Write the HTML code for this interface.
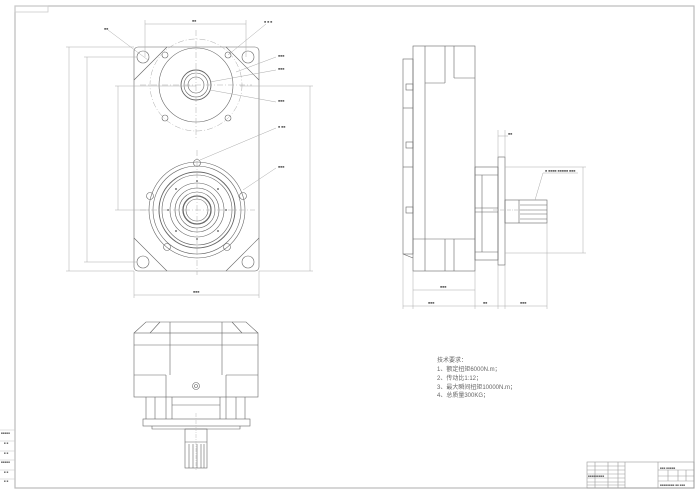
<!DOCTYPE html>
<html><head><meta charset="utf-8"><style>
html,body{margin:0;padding:0;background:#fff;}
svg{display:block;}
text{font-family:"Liberation Sans","Noto Sans CJK SC",sans-serif;fill:#666;}
</style></head><body>
<svg width="700" height="495" viewBox="0 0 700 495" xmlns="http://www.w3.org/2000/svg">
<rect width="700" height="495" fill="#fff"/>
<rect x="15" y="6" width="679" height="482" fill="none" stroke="#bbb" stroke-width="1.2"/>
<rect x="15" y="6" width="33" height="6" fill="none" stroke="#ccc" stroke-width="0.8"/>
<g stroke="#ccc" stroke-width="0.6">
<line x1="0" y1="430" x2="15" y2="430"/><line x1="0" y1="441" x2="15" y2="441"/>
<line x1="0" y1="451" x2="15" y2="451"/><line x1="0" y1="460" x2="15" y2="460"/>
<line x1="0" y1="470" x2="15" y2="470"/><line x1="0" y1="479" x2="15" y2="479"/>
</g>
<g style="fill:#aaa" font-size="3"><text x="1" y="434">■■■■■</text><text x="4" y="444">■ ■</text><text x="4" y="454">■ ■</text><text x="1" y="463">■■■■■</text><text x="4" y="473">■ ■</text><text x="4" y="482">■ ■</text></g>

<g fill="none" stroke="#666" stroke-width="0.6">
<rect x="134" y="47" width="125" height="224" rx="4"/>
<line x1="134" y1="80" x2="167" y2="47"/><line x1="226" y1="47" x2="259" y2="80"/>
<line x1="134" y1="238" x2="167" y2="271"/><line x1="226" y1="271" x2="259" y2="238"/>
<circle cx="143" cy="57" r="6"/><circle cx="248" cy="57" r="6"/>
<circle cx="143" cy="262" r="6"/><circle cx="248" cy="262" r="6"/>
<circle cx="196" cy="85" r="37"/>
<circle cx="196" cy="85" r="15" stroke-width="0.9"/><circle cx="196" cy="85" r="12"/><circle cx="196" cy="85" r="8"/>
<circle cx="165" cy="55" r="3"/><circle cx="228" cy="55" r="3"/><circle cx="165" cy="118" r="3"/><circle cx="228" cy="118" r="3"/>
<circle cx="197" cy="210" r="48"/><circle cx="197" cy="210" r="44"/><circle cx="197" cy="210" r="38" stroke-width="1"/>
<circle cx="197" cy="210" r="35"/><circle cx="197" cy="210" r="27"/><circle cx="197" cy="210" r="22"/>
<circle cx="197" cy="210" r="18"/><circle cx="197" cy="210" r="14" stroke-width="1.3"/><circle cx="197" cy="210" r="11"/>
<circle cx="197" cy="163" r="3.5"/><circle cx="150" cy="196" r="3.5"/><circle cx="243" cy="196" r="3.5"/>
<circle cx="167" cy="247" r="3.5"/><circle cx="227" cy="247" r="3.5"/>
</g>
<g fill="#777">
<circle cx="197" cy="181" r="1"/><circle cx="197" cy="239" r="1"/><circle cx="168" cy="210" r="1"/><circle cx="226" cy="210" r="1"/>
<circle cx="176" cy="189" r="1"/><circle cx="218" cy="189" r="1"/><circle cx="176" cy="231" r="1"/><circle cx="218" cy="231" r="1"/>
</g>
<g fill="none" stroke="#aaa" stroke-width="0.5">
<circle cx="196" cy="85" r="46" stroke-dasharray="6,2,1,2"/>
<line x1="196" y1="30" x2="196" y2="140" stroke-dasharray="6,2,1,2"/>
<line x1="140" y1="85" x2="252" y2="85" stroke-dasharray="6,2,1,2"/>
<line x1="197" y1="150" x2="197" y2="275" stroke-dasharray="6,2,1,2"/>
<line x1="140" y1="210" x2="255" y2="210" stroke-dasharray="6,2,1,2"/>
<line x1="145" y1="24" x2="246" y2="24"/><line x1="145" y1="20" x2="145" y2="57"/><line x1="246" y1="20" x2="246" y2="57"/>
<line x1="69" y1="47" x2="69" y2="271"/><line x1="66" y1="47" x2="134" y2="47"/><line x1="66" y1="271" x2="134" y2="271"/>
<line x1="87" y1="57" x2="87" y2="262"/><line x1="84" y1="57" x2="137" y2="57"/><line x1="84" y1="262" x2="137" y2="262"/>
<line x1="118" y1="86" x2="118" y2="210"/><line x1="115" y1="86" x2="196" y2="86"/><line x1="115" y1="210" x2="150" y2="210"/>
<line x1="310" y1="86" x2="310" y2="271"/><line x1="240" y1="86" x2="313" y2="86"/><line x1="259" y1="271" x2="313" y2="271"/>
<line x1="134" y1="295" x2="259" y2="295"/><line x1="134" y1="271" x2="134" y2="298"/><line x1="259" y1="271" x2="259" y2="298"/>
<line x1="108" y1="30" x2="148" y2="60"/><line x1="228" y1="55" x2="266" y2="24"/>
<line x1="236" y1="72" x2="276" y2="57"/><line x1="210" y1="82" x2="276" y2="70"/>
<line x1="210" y1="90" x2="276" y2="102"/><line x1="200" y1="160" x2="276" y2="128"/>
<line x1="243" y1="190" x2="276" y2="168"/>
</g>
<g font-size="3.5" style="fill:#aaa">
<text x="192" y="22">■■</text><text x="264" y="23">■ ■ ■</text><text x="104" y="30">■■</text>
<text x="278" y="57">■■■</text><text x="278" y="70">■■■</text><text x="278" y="102">■■■</text>
<text x="278" y="128">■ ■■</text><text x="278" y="168">■■■</text><text x="193" y="293">■■■</text>
</g>

<g fill="none" stroke="#666" stroke-width="0.6">
<rect x="413" y="46" width="62" height="225"/>
<rect x="403" y="59" width="10" height="195"/>
<line x1="425" y1="46" x2="425" y2="271"/><line x1="445" y1="46" x2="445" y2="83"/><line x1="454" y1="46" x2="454" y2="78"/>
<line x1="425" y1="83" x2="445" y2="83"/><line x1="454" y1="78" x2="475" y2="78"/>
<line x1="413" y1="239" x2="475" y2="239"/><line x1="445" y1="239" x2="445" y2="271"/><line x1="454" y1="239" x2="454" y2="271"/>
<rect x="406" y="84" width="7" height="6"/><rect x="406" y="142" width="7" height="6"/><rect x="406" y="207" width="7" height="6"/>
<line x1="403" y1="108" x2="413" y2="108"/><line x1="403" y1="167" x2="413" y2="167"/>
<line x1="403" y1="254" x2="413" y2="258"/>
<rect x="475" y="167" width="23" height="93"/>
<line x1="475" y1="175" x2="498" y2="175"/><line x1="475" y1="252" x2="498" y2="252"/>
<line x1="475" y1="208" x2="498" y2="208"/><line x1="475" y1="212" x2="498" y2="212"/>
<line x1="482" y1="175" x2="482" y2="252"/>
<rect x="498" y="157" width="7" height="108"/>
<rect x="505" y="200" width="42" height="23"/>
<line x1="519" y1="200" x2="519" y2="223"/>
<line x1="520" y1="205" x2="547" y2="205"/><line x1="520" y1="210" x2="547" y2="210"/><line x1="520" y1="214" x2="547" y2="214"/><line x1="520" y1="219" x2="547" y2="219"/>
</g>
<g fill="none" stroke="#aaa" stroke-width="0.5">
<line x1="413" y1="290" x2="475" y2="290"/><line x1="413" y1="271" x2="413" y2="309"/><line x1="475" y1="271" x2="475" y2="309"/>
<line x1="403" y1="306" x2="547" y2="306"/><line x1="403" y1="254" x2="403" y2="309"/><line x1="498" y1="265" x2="498" y2="309"/><line x1="505" y1="265" x2="505" y2="309"/><line x1="547" y1="223" x2="547" y2="309"/>
<line x1="498" y1="136" x2="508" y2="136"/><line x1="498" y1="130" x2="498" y2="157"/><line x1="505" y1="130" x2="505" y2="157"/>
<line x1="583" y1="167" x2="583" y2="253"/><line x1="505" y1="167" x2="586" y2="167"/><line x1="505" y1="253" x2="586" y2="253"/>
<line x1="493" y1="210" x2="530" y2="210" stroke-dasharray="4,1,1,1"/>
<line x1="535" y1="200" x2="543" y2="173"/><line x1="543" y1="173" x2="578" y2="173"/>
</g>
<g font-size="3.5" style="fill:#aaa"><text x="440" y="288">■■■</text><text x="428" y="304">■■■</text><text x="483" y="304">■■</text><text x="520" y="304">■■■</text>
<text x="508" y="135">■■</text><text x="545" y="172">■ ■■■■ ■■■■■ ■■■</text></g>

<g fill="none" stroke="#666" stroke-width="0.6">
<polyline points="134,333 146,322 172,322 218,322 246,322 258,333"/>
<line x1="150" y1="333" x2="160" y2="322"/><line x1="242" y1="333" x2="232" y2="322"/>
<line x1="170" y1="322" x2="170" y2="345"/><line x1="222" y1="322" x2="222" y2="345"/>
<rect x="134" y="333" width="124" height="64"/>
<line x1="134" y1="345" x2="258" y2="345"/><line x1="134" y1="375" x2="166" y2="375"/><line x1="226" y1="375" x2="258" y2="375"/>
<line x1="170" y1="345" x2="170" y2="375"/><line x1="222" y1="345" x2="222" y2="375"/>
<line x1="166" y1="375" x2="166" y2="397"/><line x1="226" y1="375" x2="226" y2="397"/>
<circle cx="196" cy="386" r="3.5"/><circle cx="196" cy="386" r="1.5"/>
<line x1="146" y1="397" x2="146" y2="419"/><line x1="245" y1="397" x2="245" y2="419"/>
<line x1="155" y1="397" x2="155" y2="419"/><line x1="236" y1="397" x2="236" y2="419"/>
<line x1="166" y1="397" x2="166" y2="419"/><line x1="226" y1="397" x2="226" y2="419"/>
<line x1="172" y1="397" x2="172" y2="419"/><line x1="220" y1="397" x2="220" y2="419"/>
<line x1="172" y1="405" x2="220" y2="405"/>
<rect x="143" y="419" width="107" height="7"/>
<polyline points="152,426 152,429 240,429 240,426"/>
<rect x="185" y="429" width="22" height="39"/>
<line x1="185" y1="442" x2="207" y2="442"/>
<line x1="189" y1="444" x2="189" y2="468"/><line x1="193" y1="444" x2="193" y2="468"/><line x1="197" y1="444" x2="197" y2="468"/><line x1="201" y1="444" x2="201" y2="468"/><line x1="204" y1="444" x2="204" y2="468"/>
</g>
<line x1="196" y1="413" x2="196" y2="470" stroke="#bbb" stroke-width="0.5" stroke-dasharray="4,1,1,1"/>

<g font-size="6" style="fill:#888">
<text x="437" y="362">技术要求：</text>
<text x="437" y="371">1、额定扭矩6000N.m；</text>
<text x="437" y="380">2、传动比1:12；</text>
<text x="437" y="389">3、最大瞬间扭矩10000N.m；</text>
<text x="437" y="397">4、总质量300KG；</text>
</g>

<g fill="none" stroke="#999" stroke-width="0.6">
<rect x="587" y="462" width="107" height="26"/>
<line x1="595" y1="462" x2="595" y2="488"/><line x1="608" y1="462" x2="608" y2="488"/>
<line x1="618" y1="462" x2="618" y2="488"/><line x1="625" y1="462" x2="625" y2="488"/>
<line x1="658" y1="462" x2="658" y2="488"/>
<line x1="587" y1="478" x2="625" y2="478"/>
<line x1="587" y1="466" x2="625" y2="466"/><line x1="587" y1="470" x2="625" y2="470"/><line x1="587" y1="474" x2="625" y2="474"/>
<line x1="587" y1="482" x2="625" y2="482"/><line x1="587" y1="485" x2="625" y2="485"/>
<line x1="658" y1="470" x2="694" y2="470"/><line x1="658" y1="476" x2="694" y2="476"/><line x1="658" y1="481" x2="694" y2="481"/>
<line x1="668" y1="470" x2="668" y2="481"/><line x1="678" y1="470" x2="678" y2="481"/><line x1="686" y1="470" x2="686" y2="481"/>
</g>
<g font-size="3" style="fill:#aaa"><text x="660" y="486">■■■■■■■■ ■■ ■■■</text><text x="660" y="469">■■■  ■■■■■</text><text x="588" y="477">■■■■■■■■■</text></g>
</svg>
</body></html>
